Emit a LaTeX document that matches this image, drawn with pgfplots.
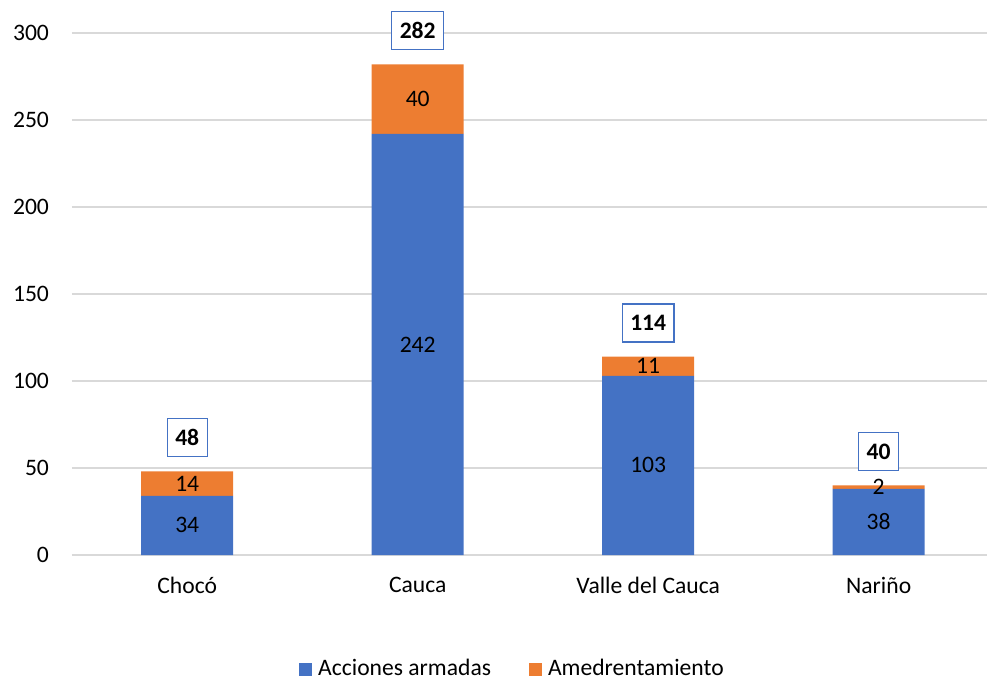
\documentclass[border=0pt]{standalone}
\usepackage{fontspec}
\setmainfont{Carlito}
\usepackage{pgfplots}
\usepackage{pgfplotstable}
\pgfplotsset{compat=1.18}

\definecolor{cblue}{HTML}{4472C4}
\definecolor{corange}{HTML}{ED7D31}
\definecolor{cgrid}{HTML}{D9D9D9}

\pgfplotstableread{
x a b t
0 34 14 48
1 242 40 282
2 103 11 114
3 38 2 40
}\data

\pgfplotsset{
  base/.style={
    scale only axis,
    width=915bp, height=522bp,
    bar width=92bp,
    xmin=-0.5, xmax=3.47,
    ymin=0, ymax=300,
  },
}

\begin{document}
\fontsize{23.6bp}{28bp}\selectfont
\begin{tikzpicture}
\useasboundingbox (-72bp,-124bp) rectangle (915bp,555bp);
\begin{axis}[
  base,
  ybar stacked,
  ytick={0,50,...,300},
  xtick={0,1,2,3},
  xticklabels={Chocó,Cauca,Valle del Cauca,Nariño},
  /pgf/number format/assume math mode=true,
  axis line style={draw=none},
  major tick length=0pt,
  ymajorgrids,
  grid style={cgrid, line width=1.3bp},
  yticklabel style={xshift=-15bp},
  xticklabel style={yshift=-14bp},
  legend style={at={(0.5,-0.219)}, anchor=center, xshift=-17bp, draw=none,
    inner ysep=0bp, nodes={inner ysep=1bp},
    legend columns=-1,
    /tikz/every even column/.append style={column sep=36bp}},
  legend image code/.code={\fill[#1,draw=none] (0bp,-6.5bp) rectangle (13bp,6.5bp);
    \path (17bp,0bp);},
]
\addplot[fill=cblue, draw=none] table[x=x, y=a] {\data};
\addlegendentry{Acciones armadas}
\addplot[fill=corange, draw=none] table[x=x, y=b] {\data};
\addlegendentry{Amedrentamiento}
\end{axis}
% labels: segment values centred in each segment, totals boxed above
\begin{axis}[
  base,
  hide axis,
  point meta=explicit symbolic,
  nodes near coords,
]
\addplot[draw=none,
  every node near coord/.append style={anchor=center, text=black}]
  table[x=x, y expr=\thisrow{a}/2, meta=a] {\data};
\addplot[draw=none,
  every node near coord/.append style={anchor=center, text=black}]
  table[x=x, y expr=\thisrow{a}+\thisrow{b}/2, meta=b] {\data};
\addplot[draw=none,
  every node near coord/.append style={anchor=south, text=black, font=\bfseries,
    draw=cblue, line width=1.3bp, fill=white,
    inner xsep=8bp, inner ysep=11.5bp, text height=15bp, text depth=0bp,
    yshift=14bp}]
  table[x=x, y=t, meta=t] {\data};
\end{axis}
\end{tikzpicture}
\end{document}
